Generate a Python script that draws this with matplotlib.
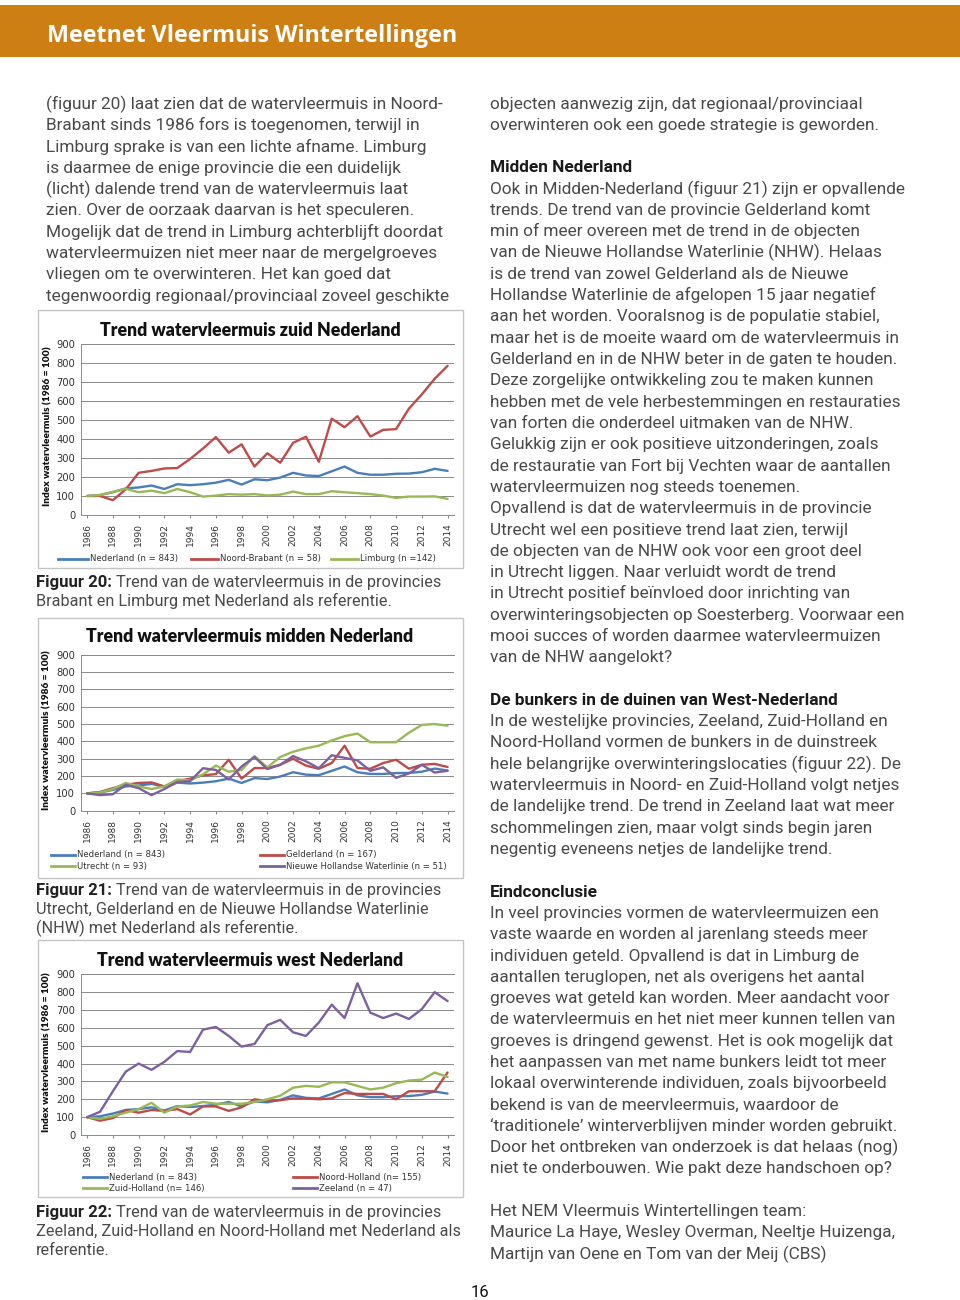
import matplotlib
matplotlib.use('Agg')
import matplotlib.pyplot as plt
from matplotlib.patches import Rectangle
from matplotlib.lines import Line2D

# ---------------- data ----------------
years = list(range(1986, 2015))
nederland = [100, 105, 120, 140, 145, 155, 137, 162, 157, 162, 170, 185, 160, 188, 183,
             197, 222, 208, 205, 230, 255, 222, 212, 212, 217, 218, 225, 243, 232]
noord_brabant = [100, 100, 78, 135, 222, 232, 245, 247, 295, 350, 410, 328, 372, 255, 325,
                 275, 380, 412, 280, 507, 462, 520, 413, 448, 452, 560, 635, 717, 785]
limburg = [100, 105, 122, 138, 120, 128, 115, 137, 120, 97, 102, 110, 107, 110, 103,
           107, 123, 110, 110, 125, 120, 115, 110, 102, 90, 97, 97, 98, 85]
gelderland = [100, 108, 130, 150, 160, 163, 140, 170, 185, 204, 211, 294, 185, 246, 246,
              265, 300, 260, 242, 275, 375, 246, 242, 275, 294, 242, 265, 270, 252]
utrecht = [100, 105, 125, 160, 140, 125, 140, 180, 175, 210, 260, 225, 235, 315, 250,
           310, 340, 360, 375, 405, 430, 445, 395, 395, 395, 450, 495, 500, 490]
nhw = [100, 90, 95, 150, 130, 90, 125, 165, 170, 245, 235, 180, 255, 310, 240,
       265, 315, 285, 245, 320, 305, 290, 230, 250, 190, 215, 265, 220, 230]
noord_holland = [100, 80, 95, 140, 125, 140, 135, 145, 115, 160, 160, 135, 155, 200, 190,
                 195, 205, 205, 200, 205, 235, 230, 230, 230, 200, 245, 245, 245, 350]
zuid_holland = [100, 90, 105, 125, 145, 180, 125, 160, 165, 185, 175, 175, 175, 185, 200,
                220, 265, 275, 270, 295, 295, 275, 255, 265, 290, 305, 310, 350, 325]
zeeland = [100, 130, 245, 355, 400, 365, 410, 470, 465, 590, 605, 555, 495, 510, 615,
           645, 575, 555, 630, 730, 655, 850, 685, 655, 680, 650, 705, 800, 750]

yticks = list(range(0, 1000, 100))
xticks = list(range(1986, 2015, 2))

titles = ["Trend watervleermuis zuid Nederland",
          "Trend watervleermuis midden Nederland",
          "Trend watervleermuis west Nederland"]
ylabel = "Index watervleermuis (1986 = 100)"

header = "Meetnet Vleermuis Wintertellingen"

left_lines = [
    "(figuur 20) laat zien dat de watervleermuis in Noord-",
    "Brabant sinds 1986 fors is toegenomen, terwijl in",
    "Limburg sprake is van een lichte afname. Limburg",
    "is daarmee de enige provincie die een duidelijk",
    "(licht) dalende trend van de watervleermuis laat",
    "zien. Over de oorzaak daarvan is het speculeren.",
    "Mogelijk dat de trend in Limburg achterblijft doordat",
    "watervleermuizen niet meer naar de mergelgroeves",
    "vliegen om te overwinteren. Het kan goed dat",
    "tegenwoordig regionaal/provinciaal zoveel geschikte",
]

right_lines = [
    "objecten aanwezig zijn, dat regionaal/provinciaal",
    "overwinteren ook een goede strategie is geworden.",
    "",
    "#Midden Nederland",
    "Ook in Midden-Nederland (figuur 21) zijn er opvallende",
    "trends. De trend van de provincie Gelderland komt",
    "min of meer overeen met de trend in de objecten",
    "van de Nieuwe Hollandse Waterlinie (NHW). Helaas",
    "is de trend van zowel Gelderland als de Nieuwe",
    "Hollandse Waterlinie de afgelopen 15 jaar negatief",
    "aan het worden. Vooralsnog is de populatie stabiel,",
    "maar het is de moeite waard om de watervleermuis in",
    "Gelderland en in de NHW beter in de gaten te houden.",
    "Deze zorgelijke ontwikkeling zou te maken kunnen",
    "hebben met de vele herbestemmingen en restauraties",
    "van forten die onderdeel uitmaken van de NHW.",
    "Gelukkig zijn er ook positieve uitzonderingen, zoals",
    "de restauratie van Fort bij Vechten waar de aantallen",
    "watervleermuizen nog steeds toenemen.",
    "Opvallend is dat de watervleermuis in de provincie",
    "Utrecht wel een positieve trend laat zien, terwijl",
    "de objecten van de NHW ook voor een groot deel",
    "in Utrecht liggen. Naar verluidt wordt de trend",
    "in Utrecht positief beïnvloed door inrichting van",
    "overwinteringsobjecten op Soesterberg. Voorwaar een",
    "mooi succes of worden daarmee watervleermuizen",
    "van de NHW aangelokt?",
    "",
    "#De bunkers in de duinen van West-Nederland",
    "In de westelijke provincies, Zeeland, Zuid-Holland en",
    "Noord-Holland vormen de bunkers in de duinstreek",
    "hele belangrijke overwinteringslocaties (figuur 22). De",
    "watervleermuis in Noord- en Zuid-Holland volgt netjes",
    "de landelijke trend. De trend in Zeeland laat wat meer",
    "schommelingen zien, maar volgt sinds begin jaren",
    "negentig eveneens netjes de landelijke trend.",
    "",
    "#Eindconclusie",
    "In veel provincies vormen de watervleermuizen een",
    "vaste waarde en worden al jarenlang steeds meer",
    "individuen geteld. Opvallend is dat in Limburg de",
    "aantallen teruglopen, net als overigens het aantal",
    "groeves wat geteld kan worden. Meer aandacht voor",
    "de watervleermuis en het niet meer kunnen tellen van",
    "groeves is dringend gewenst. Het is ook mogelijk dat",
    "het aanpassen van met name bunkers leidt tot meer",
    "lokaal overwinterende individuen, zoals bijvoorbeeld",
    "bekend is van de meervleermuis, waardoor de",
    "‘traditionele’ winterverblijven minder worden gebruikt.",
    "Door het ontbreken van onderzoek is dat helaas (nog)",
    "niet te onderbouwen. Wie pakt deze handschoen op?",
    "",
    "Het NEM Vleermuis Wintertellingen team:",
    "Maurice La Haye, Wesley Overman, Neeltje Huizenga,",
    "Martijn van Oene en Tom van der Meij (CBS)",
]

captions = [
    ("Figuur 20:", ["Trend van de watervleermuis in de provincies",
                    "Brabant en Limburg met Nederland als referentie."]),
    ("Figuur 21:", ["Trend van de watervleermuis in de provincies",
                    "Utrecht, Gelderland en de Nieuwe Hollandse Waterlinie",
                    "(NHW) met Nederland als referentie."]),
    ("Figuur 22:", ["Trend van de watervleermuis in de provincies",
                    "Zeeland, Zuid-Holland en Noord-Holland met Nederland als",
                    "referentie."]),
]

BLUE, RED, GREEN, PURPLE = '#4A7EBB', '#BE4B48', '#98B954', '#7D60A0'

charts = [
    dict(series=[("Nederland (n = 843)", nederland, BLUE),
                 ("Noord-Brabant (n = 58)", noord_brabant, RED),
                 ("Limburg (n =142)", limburg, GREEN)]),
    dict(series=[("Nederland (n = 843)", nederland, BLUE),
                 ("Gelderland (n = 167)", gelderland, RED),
                 ("Utrecht (n = 93)", utrecht, GREEN),
                 ("Nieuwe Hollandse Waterlinie (n = 51)", nhw, PURPLE)]),
    dict(series=[("Nederland (n = 843)", nederland, BLUE),
                 ("Noord-Holland (n= 155)", noord_holland, RED),
                 ("Zuid-Holland (n= 146)", zuid_holland, GREEN),
                 ("Zeeland (n = 47)", zeeland, PURPLE)]),
]

# ---------------- layout (pixels) ----------------
W, H = 960, 1300
fig = plt.figure(figsize=(W / 100, H / 100), dpi=100)
fig.patch.set_facecolor('white')
renderer = fig.canvas.get_renderer()


def fx(x):
    return x / W


def fy(y):
    return 1 - y / H


def measure(s, **kw):
    t = fig.text(0, 0, s, **kw)
    w = t.get_window_extent(renderer).width
    t.remove()
    return w


def fit(s, target, **kw):
    return 10 * target / measure(s, fontsize=10, **kw)


BODY = dict(family='Roboto', fontweight='normal')
BOLD = dict(family='Roboto', fontweight='bold')
TXT = '#4a4a4a'

body_fs = fit(left_lines[-1], 404, **BODY)
cap_fs = fit(captions[0][1][1], 355, **BODY)

# header band
fig.add_artist(Rectangle((0, fy(57)), 1, 52 / H, transform=fig.transFigure,
                         facecolor='#CD7F14', edgecolor='none'))
hfs = fit(header, 411, family='Open Sans', fontweight='bold')
fig.text(fx(47), fy(42.5), header, color='white', fontsize=hfs,
         family='Open Sans', fontweight='bold', va='baseline', ha='left')

# left column text
for i, s in enumerate(left_lines):
    fig.text(fx(46), fy(109 + 21.3 * i), s, fontsize=body_fs, color=TXT,
             va='baseline', ha='left', **BODY)

# right column text
for i, s in enumerate(right_lines):
    if not s:
        continue
    if s.startswith('#'):
        fig.text(fx(490), fy(108.5 + 21.3 * i), s[1:], fontsize=body_fs,
                 color='#1a1a1a', va='baseline', ha='left', **BOLD)
    else:
        fig.text(fx(490), fy(108.5 + 21.3 * i), s, fontsize=body_fs, color=TXT,
                 va='baseline', ha='left', **BODY)

# captions
cap_base = [586.7, 895.0, 1216.7]
space_w = measure("a a", fontsize=cap_fs, **BODY) - measure("aa", fontsize=cap_fs, **BODY)
for (bold, rest), yb in zip(captions, cap_base):
    bw = measure(bold, fontsize=cap_fs + 0.4, **BOLD)
    fig.text(fx(36), fy(yb), bold, fontsize=cap_fs + 0.4, color='#222222',
             va='baseline', ha='left', **BOLD)
    for j, s in enumerate(rest):
        x = 36 + bw + space_w if j == 0 else 36
        fig.text(fx(x), fy(yb + 19.3 * j), s, fontsize=cap_fs, color=TXT,
                 va='baseline', ha='left', **BODY)

# page number
fig.text(fx(480), fy(1297), "16", fontsize=12, color='#111111', family='Roboto',
         ha='center', va='baseline')

# ---------------- charts ----------------
frames = [(310, 568), (618, 878), (940, 1197)]
zero_px = [515.0, 810.7, 1135.0]
top_px = [344.0, 654.7, 974.3]
title_pos = [(250, 330), (250, 637), (250, 961)]
ylab_pos = [(48, 426), (47, 730), (47, 1052)]
legend_pos = [
    [(58, 559, 30), (191, 559, 27), (331, 559, 27)],
    [(51, 855, 24), (260, 855, 24), (51, 866, 24), (260, 866, 24)],
    [(83, 1177.7, 24), (293, 1177.7, 24), (83, 1188.5, 24), (293, 1188.5, 24)],
]

TFONT = dict(family='Lato', fontweight='heavy')
title_fs = fit(titles[0], 301, **TFONT)
ylab_fs = fit(ylabel, 160, **TFONT)
leg_fs = fit("Nederland (n = 843)", 88, family='DejaVu Sans')
GRID = '#8a8a8a'

for k, ch in enumerate(charts):
    ft, fb = frames[k]
    fig.add_artist(Rectangle((fx(38), fy(fb)), 425 / W, (fb - ft) / H,
                             transform=fig.transFigure, facecolor='none',
                             edgecolor='#c4c4c4', lw=1.0))
    ax = fig.add_axes([fx(80.7), fy(zero_px[k]), (454 - 80.7) / W,
                       (zero_px[k] - top_px[k]) / H])
    ax.set_xlim(1985.5, 2014.5)
    ax.set_ylim(0, 900)
    ax.set_yticks(yticks)
    ax.set_xticks(xticks)
    ax.set_xticklabels([str(x) for x in xticks], rotation=90)
    ax.grid(axis='y', color=GRID, lw=0.7)
    ax.set_axisbelow(True)
    ax.spines['right'].set_visible(False)
    for sp in ['left', 'bottom', 'top']:
        ax.spines[sp].set_color(GRID)
        ax.spines[sp].set_linewidth(0.7)
    ax.tick_params(axis='y', length=0, pad=4, labelsize=7.2, labelcolor='#333333')
    ax.tick_params(axis='x', length=2, color=GRID, pad=4, labelsize=6.5,
                   labelcolor='#333333')
    for lab, vals, col in ch['series']:
        ax.plot(years, vals, color=col, lw=1.7, solid_joinstyle='round',
                solid_capstyle='round', clip_on=False)
    tx, ty = title_pos[k]
    fig.text(fx(tx), fy(ty), titles[k], fontsize=title_fs, ha='center',
             va='center', color='#111111', **TFONT)
    lx, ly = ylab_pos[k]
    fig.text(fx(lx), fy(ly), ylabel, fontsize=ylab_fs, rotation=90, ha='center',
             va='center', color='#111111', **TFONT)
    for (lab, vals, col), (x0, y0, ln) in zip(ch['series'], legend_pos[k]):
        hl = ln / (leg_fs * 100 / 72)
        fig.legend(handles=[Line2D([], [], color=col, lw=2.0)], labels=[lab],
                   loc='center left', bbox_to_anchor=(fx(x0), fy(y0)),
                   bbox_transform=fig.transFigure, frameon=False,
                   fontsize=leg_fs, handlelength=hl, handletextpad=0.2,
                   borderpad=0, borderaxespad=0, labelcolor='#333333')

fig.savefig('out.png', dpi=100, facecolor='white')
